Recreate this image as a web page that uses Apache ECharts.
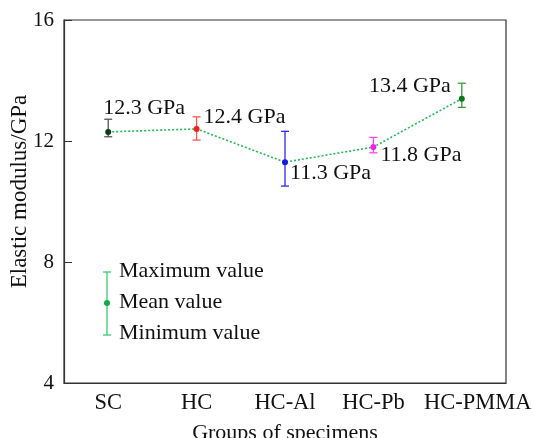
<!DOCTYPE html>
<html>
<head>
<meta charset="utf-8">
<script src="https://cdn.jsdelivr.net/npm/echarts@6/dist/echarts.min.js"></script>
<style>
  html, body { margin: 0; padding: 0; background: #fff; }
  #chart { width: 534px; height: 438px; }
</style>
</head>
<body>
<div id="chart"></div>
<script>
// Elastic modulus of each specimen group: mean with min/max range
const groups = ['SC', 'HC', 'HC-Al', 'HC-Pb', 'HC-PMMA'];
const meanValues = [12.3, 12.4, 11.3, 11.8, 13.4];
const minValues = [12.14, 12.03, 10.51, 11.61, 13.11];
const maxValues = [12.72, 12.80, 12.32, 12.12, 13.91];
const yTicks = [4, 8, 12, 16];

// styling per group
const barColors = ['#555555', '#ff5555', '#2a2aee', '#ff44ff', '#3a9a3a'];
const dotColors = ['#0b3d1c', '#ee2222', '#1818dd', '#ee22ee', '#0b7a1e'];
// label placement relative to the marker box: [align, dx, dy]
const labelPlace = [
  ['left', -2, -21],
  ['left', 10, -9],
  ['left', 8, 14],
  ['left', 10, 11],
  ['right', -8, -9]
];
// extra left padding of each category label (the last one sits right of its tick)
const catPad = [0, 0, 0, 0, 32];

const FONT = 'Liberation Serif';
const chart = echarts.init(document.getElementById('chart'));

const errData = groups.map((g, i) => [i, minValues[i], maxValues[i]]);
const legendColor = '#33cc77';
const legendFont = '22px "Liberation Serif"';

chart.setOption({
  animation: false,
  grid: {
    left: 64, right: 28, top: 20, bottom: 55,
    outerBoundsMode: 'none',
    containLabel: false,
    show: true, borderColor: '#333', borderWidth: 1.2, backgroundColor: 'transparent'
  },
  xAxis: {
    type: 'category',
    data: groups.map((g, i) => ({ value: g, textStyle: { padding: [0, 0, 0, catPad[i]] } })),
    boundaryGap: true,
    name: 'Groups of specimens',
    nameLocation: 'middle',
    nameGap: 39,
    nameMoveOverlap: false,
    nameTextStyle: { fontFamily: FONT, fontSize: 22, color: '#111' },
    axisLine: { lineStyle: { color: '#333', width: 1.2 } },
    axisTick: { inside: true, length: 7, alignWithLabel: true, lineStyle: { color: '#333' } },
    axisLabel: { interval: 0, fontFamily: FONT, fontSize: 22.5, color: '#111', margin: 9 }
  },
  yAxis: {
    type: 'value',
    min: yTicks[0],
    max: yTicks[yTicks.length - 1],
    interval: yTicks[1] - yTicks[0],
    name: 'Elastic modulus/GPa',
    nameLocation: 'middle',
    nameGap: 33,
    nameMoveOverlap: false,
    nameTextStyle: { fontFamily: FONT, fontSize: 23, color: '#111', padding: [0, 0, 0, 20] },
    axisLine: { show: true, lineStyle: { color: '#333', width: 1.2 } },
    axisTick: { show: true, inside: true, length: 8, lineStyle: { color: '#333' } },
    axisLabel: { fontFamily: FONT, fontSize: 21, color: '#111', margin: 10 },
    splitLine: { show: false }
  },
  series: [
    {
      type: 'custom',
      data: errData,
      z: 3,
      renderItem: function (params, api) {
        const i = api.value(0);
        const lo = api.coord([i, api.value(1)]);
        const hi = api.coord([i, api.value(2)]);
        const w = 4;
        const style = { stroke: barColors[i], lineWidth: 1.3, fill: null };
        return {
          type: 'group',
          children: [
            { type: 'line', shape: { x1: hi[0], y1: hi[1], x2: lo[0], y2: lo[1] }, style: style },
            { type: 'line', shape: { x1: hi[0] - w, y1: hi[1], x2: hi[0] + w, y2: hi[1] }, style: style },
            { type: 'line', shape: { x1: lo[0] - w, y1: lo[1], x2: lo[0] + w, y2: lo[1] }, style: style }
          ]
        };
      }
    },
    {
      type: 'line',
      z: 4,
      data: meanValues.map((v, i) => ({
        value: v,
        itemStyle: { color: dotColors[i] },
        label: {
          show: true,
          align: labelPlace[i][0],
          verticalAlign: 'middle',
          position: [labelPlace[i][1], labelPlace[i][2]],
          formatter: v.toFixed(1) + ' GPa',
          fontFamily: FONT,
          fontSize: 22,
          color: '#111'
        }
      })),
      symbol: 'circle',
      symbolSize: 6,
      lineStyle: { color: '#22bb55', width: 1.6, type: [2, 2] }
    }
  ],
  graphic: [
    { type: 'line', shape: { x1: 107, y1: 272, x2: 107, y2: 335 }, style: { stroke: legendColor, lineWidth: 1.3 } },
    { type: 'line', shape: { x1: 103, y1: 272, x2: 111, y2: 272 }, style: { stroke: legendColor, lineWidth: 1.3 } },
    { type: 'line', shape: { x1: 103, y1: 335, x2: 111, y2: 335 }, style: { stroke: legendColor, lineWidth: 1.3 } },
    { type: 'circle', shape: { cx: 107, cy: 303, r: 3 }, style: { fill: '#11aa44' } },
    { type: 'text', x: 119, y: 271, style: { text: 'Maximum value', font: legendFont, fill: '#111', verticalAlign: 'middle' } },
    { type: 'text', x: 119, y: 302, style: { text: 'Mean value', font: legendFont, fill: '#111', verticalAlign: 'middle' } },
    { type: 'text', x: 119, y: 333, style: { text: 'Minimum value', font: legendFont, fill: '#111', verticalAlign: 'middle' } }
  ]
});
</script>
</body>
</html>
